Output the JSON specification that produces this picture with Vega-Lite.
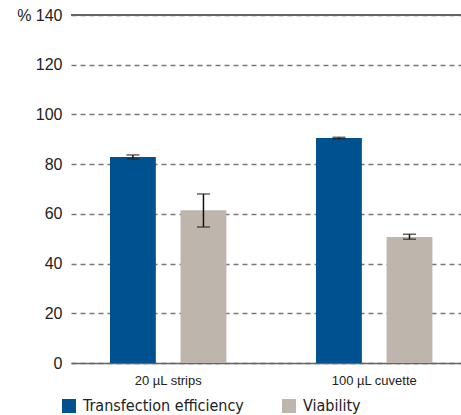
{
  "$schema": "https://vega.github.io/schema/vega-lite/v6.json",
  "width": 390,
  "height": 348,
  "autosize": "none",
  "padding": {"left": 71, "top": 15, "right": 0, "bottom": 52},
  "background": "white",
  "config": {"view": {"stroke": null}, "font": "Liberation Sans"},
  "data": {"values": [
    {"group": "20 µL strips", "series": "Transfection efficiency", "value": 82.9, "lo": 82.1, "hi": 83.7},
    {"group": "20 µL strips", "series": "Viability", "value": 61.5, "lo": 54.7, "hi": 68.0},
    {"group": "100 µL cuvette", "series": "Transfection efficiency", "value": 90.5, "lo": 90.2, "hi": 90.8},
    {"group": "100 µL cuvette", "series": "Viability", "value": 50.7, "lo": 49.8, "hi": 51.8}
  ]},
  "layer": [
    {
      "mark": {"type": "bar"},
      "encoding": {
        "x": {"field": "group", "type": "nominal", "sort": null,
          "scale": {"paddingInner": 0.435, "paddingOuter": 0.164, "align": 0.577},
          "axis": {"title": null, "labelAngle": 0, "ticks": false, "domain": true, "domainColor": "#666", "domainWidth": 1.5, "labelFontSize": 13, "labelColor": "#222", "labelPadding": 11}},
        "xOffset": {"field": "series", "type": "nominal", "sort": null, "scale": {"paddingInner": 0.35, "paddingOuter": 0}},
        "y": {"field": "value", "type": "quantitative",
          "scale": {"domain": [0, 140], "nice": false},
          "axis": {"title": null, "values": [0, 20, 40, 60, 80, 100, 120, 140], "grid": true, "gridDash": [5, 4], "gridColor": "#777", "gridWidth": 1.5, "domain": false, "ticks": false, "labelPadding": 9, "labelFontSize": 16, "labelColor": "#222",
            "labelExpr": "datum.value == 140 ? '% 140' : datum.label"}},
        "color": {"field": "series", "type": "nominal", "sort": null,
          "scale": {"domain": ["Transfection efficiency", "Viability"], "range": ["#00518F", "#BEB5AC"]},
          "legend": {"title": null, "orient": "none", "legendX": -10, "legendY": 383, "direction": "horizontal", "symbolType": "square", "symbolSize": 196, "symbolStrokeWidth": 0, "symbolOpacity": 1, "labelFontSize": 16, "labelFont": "DejaVu Sans Condensed", "labelColor": "#222", "labelLimit": 400, "columnPadding": 37, "labelOffset": 6}}
      }
    },
    {
      "mark": {"type": "rule", "color": "#111", "strokeWidth": 1.5},
      "encoding": {
        "x": {"field": "group", "type": "nominal", "sort": null},
        "xOffset": {"field": "series", "type": "nominal", "sort": null},
        "y": {"field": "lo", "type": "quantitative"},
        "y2": {"field": "hi"}
      }
    },
    {
      "mark": {"type": "tick", "color": "#222", "thickness": 1.5, "size": 13},
      "encoding": {
        "x": {"field": "group", "type": "nominal", "sort": null},
        "xOffset": {"field": "series", "type": "nominal", "sort": null},
        "y": {"field": "lo", "type": "quantitative"}}
    },
    {
      "mark": {"type": "tick", "color": "#222", "thickness": 1.5, "size": 13},
      "encoding": {
        "x": {"field": "group", "type": "nominal", "sort": null},
        "xOffset": {"field": "series", "type": "nominal", "sort": null},
        "y": {"field": "hi", "type": "quantitative"}}
    },
    {
      "mark": {"type": "rule", "color": "#666", "strokeWidth": 1.5},
      "encoding": {"y": {"datum": 140}}
    }
  ]
}
